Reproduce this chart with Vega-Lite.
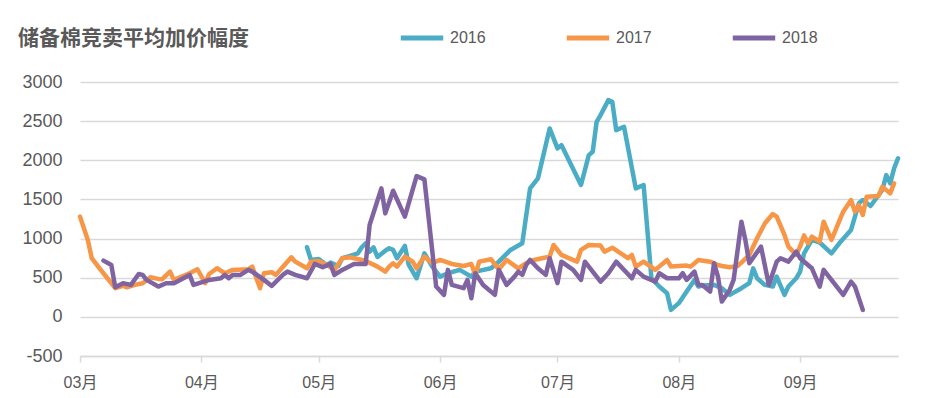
{
  "$schema": "https://vega.github.io/schema/vega-lite/v6.json",
  "width": 818,
  "height": 274,
  "autosize": "none",
  "padding": {"left": 80, "top": 82, "right": 28, "bottom": 42},
  "background": "white",
  "title": {
    "text": "储备棉竞卖平均加价幅度",
    "anchor": "start",
    "frame": "group",
    "dx": -62,
    "offset": 0,
    "dy": 46,
    "baseline": "middle",
    "font": "Noto Sans CJK SC",
    "fontSize": 21,
    "fontWeight": "bold",
    "color": "#595959"
  },
  "config": {
    "view": {"stroke": null},
    "axis": {"labelFont": "Liberation Sans", "labelColor": "#595959"}
  },
  "data": {
    "values": [
      {"d":"2018-04-28","y":"2016","v":889},{"d":"2018-04-29","y":"2016","v":727},{"d":"2018-05-01","y":"2016","v":740},{"d":"2018-05-03","y":"2016","v":663},{"d":"2018-05-04","y":"2016","v":693},{"d":"2018-05-06","y":"2016","v":650},{"d":"2018-05-07","y":"2016","v":749},{"d":"2018-05-09","y":"2016","v":778},{"d":"2018-05-11","y":"2016","v":812},{"d":"2018-05-12","y":"2016","v":889},{"d":"2018-05-13","y":"2016","v":940},{"d":"2018-05-14","y":"2016","v":833},{"d":"2018-05-15","y":"2016","v":889},{"d":"2018-05-16","y":"2016","v":765},{"d":"2018-05-18","y":"2016","v":845},{"d":"2018-05-19","y":"2016","v":876},{"d":"2018-05-20","y":"2016","v":855},{"d":"2018-05-21","y":"2016","v":749},{"d":"2018-05-23","y":"2016","v":906},{"d":"2018-05-24","y":"2016","v":663},{"d":"2018-05-26","y":"2016","v":493},{"d":"2018-05-28","y":"2016","v":812},{"d":"2018-05-30","y":"2016","v":642},{"d":"2018-05-31","y":"2016","v":578},{"d":"2018-06-01","y":"2016","v":514},{"d":"2018-06-03","y":"2016","v":557},{"d":"2018-06-06","y":"2016","v":600},{"d":"2018-06-09","y":"2016","v":514},{"d":"2018-06-10","y":"2016","v":578},{"d":"2018-06-14","y":"2016","v":620},{"d":"2018-06-16","y":"2016","v":705},{"d":"2018-06-19","y":"2016","v":855},{"d":"2018-06-22","y":"2016","v":940},{"d":"2018-06-24","y":"2016","v":1641},{"d":"2018-06-26","y":"2016","v":1769},{"d":"2018-06-29","y":"2016","v":2407},{"d":"2018-07-01","y":"2016","v":2152},{"d":"2018-07-02","y":"2016","v":2194},{"d":"2018-07-07","y":"2016","v":1684},{"d":"2018-07-09","y":"2016","v":2066},{"d":"2018-07-10","y":"2016","v":2109},{"d":"2018-07-11","y":"2016","v":2491},{"d":"2018-07-12","y":"2016","v":2577},{"d":"2018-07-14","y":"2016","v":2768},{"d":"2018-07-15","y":"2016","v":2747},{"d":"2018-07-16","y":"2016","v":2385},{"d":"2018-07-18","y":"2016","v":2428},{"d":"2018-07-21","y":"2016","v":1641},{"d":"2018-07-23","y":"2016","v":1684},{"d":"2018-07-25","y":"2016","v":493},{"d":"2018-07-27","y":"2016","v":387},{"d":"2018-07-29","y":"2016","v":302},{"d":"2018-07-30","y":"2016","v":89},{"d":"2018-08-01","y":"2016","v":175},{"d":"2018-08-03","y":"2016","v":323},{"d":"2018-08-05","y":"2016","v":472},{"d":"2018-08-06","y":"2016","v":387},{"d":"2018-08-07","y":"2016","v":400},{"d":"2018-08-10","y":"2016","v":408},{"d":"2018-08-12","y":"2016","v":366},{"d":"2018-08-14","y":"2016","v":281},{"d":"2018-08-17","y":"2016","v":366},{"d":"2018-08-19","y":"2016","v":430},{"d":"2018-08-20","y":"2016","v":620},{"d":"2018-08-21","y":"2016","v":493},{"d":"2018-08-23","y":"2016","v":408},{"d":"2018-08-25","y":"2016","v":387},{"d":"2018-08-26","y":"2016","v":514},{"d":"2018-08-28","y":"2016","v":281},{"d":"2018-08-29","y":"2016","v":387},{"d":"2018-08-31","y":"2016","v":493},{"d":"2018-09-01","y":"2016","v":578},{"d":"2018-09-02","y":"2016","v":812},{"d":"2018-09-04","y":"2016","v":982},{"d":"2018-09-06","y":"2016","v":950},{"d":"2018-09-09","y":"2016","v":812},{"d":"2018-09-11","y":"2016","v":940},{"d":"2018-09-14","y":"2016","v":1110},{"d":"2018-09-16","y":"2016","v":1450},{"d":"2018-09-17","y":"2016","v":1492},{"d":"2018-09-19","y":"2016","v":1416},{"d":"2018-09-22","y":"2016","v":1620},{"d":"2018-09-23","y":"2016","v":1811},{"d":"2018-09-24","y":"2016","v":1705},{"d":"2018-09-25","y":"2016","v":1897},{"d":"2018-09-26","y":"2016","v":2024},

      {"d":"2018-03-01","y":"2017","v":1280},{"d":"2018-03-03","y":"2017","v":982},{"d":"2018-03-04","y":"2017","v":749},{"d":"2018-03-06","y":"2017","v":620},{"d":"2018-03-08","y":"2017","v":493},{"d":"2018-03-10","y":"2017","v":366},{"d":"2018-03-12","y":"2017","v":395},{"d":"2018-03-13","y":"2017","v":378},{"d":"2018-03-15","y":"2017","v":408},{"d":"2018-03-17","y":"2017","v":430},{"d":"2018-03-19","y":"2017","v":506},{"d":"2018-03-21","y":"2017","v":485},{"d":"2018-03-22","y":"2017","v":481},{"d":"2018-03-24","y":"2017","v":578},{"d":"2018-03-25","y":"2017","v":472},{"d":"2018-03-27","y":"2017","v":514},{"d":"2018-03-29","y":"2017","v":557},{"d":"2018-03-31","y":"2017","v":608},{"d":"2018-04-02","y":"2017","v":430},{"d":"2018-04-03","y":"2017","v":548},{"d":"2018-04-05","y":"2017","v":621},{"d":"2018-04-07","y":"2017","v":557},{"d":"2018-04-09","y":"2017","v":600},{"d":"2018-04-13","y":"2017","v":608},{"d":"2018-04-14","y":"2017","v":642},{"d":"2018-04-16","y":"2017","v":366},{"d":"2018-04-17","y":"2017","v":557},{"d":"2018-04-19","y":"2017","v":570},{"d":"2018-04-20","y":"2017","v":536},{"d":"2018-04-24","y":"2017","v":761},{"d":"2018-04-25","y":"2017","v":705},{"d":"2018-04-28","y":"2017","v":620},{"d":"2018-04-29","y":"2017","v":705},{"d":"2018-05-01","y":"2017","v":714},{"d":"2018-05-03","y":"2017","v":663},{"d":"2018-05-05","y":"2017","v":600},{"d":"2018-05-07","y":"2017","v":749},{"d":"2018-05-09","y":"2017","v":761},{"d":"2018-05-12","y":"2017","v":727},{"d":"2018-05-13","y":"2017","v":714},{"d":"2018-05-16","y":"2017","v":642},{"d":"2018-05-18","y":"2017","v":578},{"d":"2018-05-19","y":"2017","v":642},{"d":"2018-05-20","y":"2017","v":685},{"d":"2018-05-21","y":"2017","v":642},{"d":"2018-05-23","y":"2017","v":770},{"d":"2018-05-25","y":"2017","v":705},{"d":"2018-05-26","y":"2017","v":620},{"d":"2018-05-28","y":"2017","v":770},{"d":"2018-05-30","y":"2017","v":685},{"d":"2018-06-01","y":"2017","v":727},{"d":"2018-06-04","y":"2017","v":676},{"d":"2018-06-07","y":"2017","v":650},{"d":"2018-06-09","y":"2017","v":676},{"d":"2018-06-10","y":"2017","v":536},{"d":"2018-06-11","y":"2017","v":705},{"d":"2018-06-14","y":"2017","v":736},{"d":"2018-06-16","y":"2017","v":608},{"d":"2018-06-18","y":"2017","v":727},{"d":"2018-06-21","y":"2017","v":620},{"d":"2018-06-23","y":"2017","v":685},{"d":"2018-06-25","y":"2017","v":727},{"d":"2018-06-27","y":"2017","v":749},{"d":"2018-06-29","y":"2017","v":770},{"d":"2018-06-30","y":"2017","v":918},{"d":"2018-07-02","y":"2017","v":791},{"d":"2018-07-06","y":"2017","v":705},{"d":"2018-07-07","y":"2017","v":855},{"d":"2018-07-09","y":"2017","v":918},{"d":"2018-07-12","y":"2017","v":910},{"d":"2018-07-13","y":"2017","v":833},{"d":"2018-07-15","y":"2017","v":884},{"d":"2018-07-19","y":"2017","v":749},{"d":"2018-07-20","y":"2017","v":791},{"d":"2018-07-21","y":"2017","v":642},{"d":"2018-07-23","y":"2017","v":705},{"d":"2018-07-26","y":"2017","v":600},{"d":"2018-07-29","y":"2017","v":727},{"d":"2018-07-30","y":"2017","v":642},{"d":"2018-08-03","y":"2017","v":655},{"d":"2018-08-04","y":"2017","v":642},{"d":"2018-08-06","y":"2017","v":727},{"d":"2018-08-09","y":"2017","v":705},{"d":"2018-08-11","y":"2017","v":663},{"d":"2018-08-12","y":"2017","v":650},{"d":"2018-08-14","y":"2017","v":634},{"d":"2018-08-16","y":"2017","v":650},{"d":"2018-08-17","y":"2017","v":693},{"d":"2018-08-19","y":"2017","v":791},{"d":"2018-08-21","y":"2017","v":1004},{"d":"2018-08-23","y":"2017","v":1195},{"d":"2018-08-25","y":"2017","v":1314},{"d":"2018-08-26","y":"2017","v":1280},{"d":"2018-08-28","y":"2017","v":1046},{"d":"2018-08-29","y":"2017","v":897},{"d":"2018-08-31","y":"2017","v":791},{"d":"2018-09-01","y":"2017","v":900},{"d":"2018-09-02","y":"2017","v":1040},{"d":"2018-09-03","y":"2017","v":940},{"d":"2018-09-04","y":"2017","v":1025},{"d":"2018-09-06","y":"2017","v":961},{"d":"2018-09-07","y":"2017","v":1216},{"d":"2018-09-09","y":"2017","v":982},{"d":"2018-09-12","y":"2017","v":1343},{"d":"2018-09-14","y":"2017","v":1492},{"d":"2018-09-15","y":"2017","v":1343},{"d":"2018-09-16","y":"2017","v":1428},{"d":"2018-09-17","y":"2017","v":1301},{"d":"2018-09-18","y":"2017","v":1534},{"d":"2018-09-21","y":"2017","v":1543},{"d":"2018-09-22","y":"2017","v":1662},{"d":"2018-09-24","y":"2017","v":1577},{"d":"2018-09-25","y":"2017","v":1705},

      {"d":"2018-03-07","y":"2018","v":718},{"d":"2018-03-09","y":"2018","v":663},{"d":"2018-03-10","y":"2018","v":379},{"d":"2018-03-12","y":"2018","v":430},{"d":"2018-03-14","y":"2018","v":408},{"d":"2018-03-16","y":"2018","v":548},{"d":"2018-03-17","y":"2018","v":536},{"d":"2018-03-18","y":"2018","v":472},{"d":"2018-03-21","y":"2018","v":387},{"d":"2018-03-23","y":"2018","v":430},{"d":"2018-03-25","y":"2018","v":430},{"d":"2018-03-29","y":"2018","v":536},{"d":"2018-03-30","y":"2018","v":408},{"d":"2018-04-03","y":"2018","v":472},{"d":"2018-04-06","y":"2018","v":493},{"d":"2018-04-07","y":"2018","v":536},{"d":"2018-04-08","y":"2018","v":493},{"d":"2018-04-09","y":"2018","v":536},{"d":"2018-04-11","y":"2018","v":536},{"d":"2018-04-13","y":"2018","v":600},{"d":"2018-04-14","y":"2018","v":578},{"d":"2018-04-17","y":"2018","v":472},{"d":"2018-04-19","y":"2018","v":395},{"d":"2018-04-22","y":"2018","v":544},{"d":"2018-04-23","y":"2018","v":578},{"d":"2018-04-25","y":"2018","v":536},{"d":"2018-04-28","y":"2018","v":493},{"d":"2018-04-30","y":"2018","v":676},{"d":"2018-05-02","y":"2018","v":634},{"d":"2018-05-04","y":"2018","v":676},{"d":"2018-05-05","y":"2018","v":536},{"d":"2018-05-07","y":"2018","v":600},{"d":"2018-05-10","y":"2018","v":676},{"d":"2018-05-13","y":"2018","v":676},{"d":"2018-05-14","y":"2018","v":1173},{"d":"2018-05-17","y":"2018","v":1641},{"d":"2018-05-18","y":"2018","v":1322},{"d":"2018-05-20","y":"2018","v":1611},{"d":"2018-05-23","y":"2018","v":1280},{"d":"2018-05-26","y":"2018","v":1798},{"d":"2018-05-28","y":"2018","v":1756},{"d":"2018-05-31","y":"2018","v":387},{"d":"2018-06-02","y":"2018","v":281},{"d":"2018-06-03","y":"2018","v":600},{"d":"2018-06-04","y":"2018","v":408},{"d":"2018-06-07","y":"2018","v":366},{"d":"2018-06-08","y":"2018","v":472},{"d":"2018-06-09","y":"2018","v":238},{"d":"2018-06-10","y":"2018","v":557},{"d":"2018-06-12","y":"2018","v":408},{"d":"2018-06-15","y":"2018","v":281},{"d":"2018-06-16","y":"2018","v":600},{"d":"2018-06-18","y":"2018","v":408},{"d":"2018-06-20","y":"2018","v":514},{"d":"2018-06-21","y":"2018","v":578},{"d":"2018-06-22","y":"2018","v":536},{"d":"2018-06-23","y":"2018","v":663},{"d":"2018-06-24","y":"2018","v":727},{"d":"2018-06-26","y":"2018","v":620},{"d":"2018-06-28","y":"2018","v":536},{"d":"2018-06-29","y":"2018","v":749},{"d":"2018-07-01","y":"2018","v":430},{"d":"2018-07-02","y":"2018","v":705},{"d":"2018-07-05","y":"2018","v":600},{"d":"2018-07-07","y":"2018","v":472},{"d":"2018-07-08","y":"2018","v":705},{"d":"2018-07-12","y":"2018","v":450},{"d":"2018-07-14","y":"2018","v":557},{"d":"2018-07-16","y":"2018","v":705},{"d":"2018-07-20","y":"2018","v":493},{"d":"2018-07-21","y":"2018","v":600},{"d":"2018-07-23","y":"2018","v":514},{"d":"2018-07-26","y":"2018","v":450},{"d":"2018-07-27","y":"2018","v":557},{"d":"2018-07-29","y":"2018","v":493},{"d":"2018-08-01","y":"2018","v":493},{"d":"2018-08-02","y":"2018","v":557},{"d":"2018-08-03","y":"2018","v":472},{"d":"2018-08-05","y":"2018","v":578},{"d":"2018-08-06","y":"2018","v":408},{"d":"2018-08-07","y":"2018","v":408},{"d":"2018-08-09","y":"2018","v":323},{"d":"2018-08-10","y":"2018","v":685},{"d":"2018-08-11","y":"2018","v":514},{"d":"2018-08-12","y":"2018","v":195},{"d":"2018-08-14","y":"2018","v":344},{"d":"2018-08-15","y":"2018","v":472},{"d":"2018-08-17","y":"2018","v":1216},{"d":"2018-08-18","y":"2018","v":982},{"d":"2018-08-19","y":"2018","v":685},{"d":"2018-08-22","y":"2018","v":897},{"d":"2018-08-24","y":"2018","v":408},{"d":"2018-08-26","y":"2018","v":705},{"d":"2018-08-27","y":"2018","v":749},{"d":"2018-08-29","y":"2018","v":705},{"d":"2018-08-31","y":"2018","v":833},{"d":"2018-09-01","y":"2018","v":749},{"d":"2018-09-03","y":"2018","v":663},{"d":"2018-09-04","y":"2018","v":620},{"d":"2018-09-06","y":"2018","v":387},{"d":"2018-09-07","y":"2018","v":600},{"d":"2018-09-12","y":"2018","v":281},{"d":"2018-09-14","y":"2018","v":450},{"d":"2018-09-15","y":"2018","v":387},{"d":"2018-09-17","y":"2018","v":89}
    ]
  },
  "mark": {"type": "line", "strokeWidth": 4.5, "strokeJoin": "round", "strokeCap": "round"},
  "encoding": {
    "x": {
      "field": "d",
      "type": "temporal",
      "scale": {
        "type": "utc",
        "domain": [
          {"year": 2018, "month": 3, "date": 1, "utc": true},
          {"year": 2018, "month": 9, "date": 26, "utc": true}
        ]
      },
      "axis": {
        "title": null,
        "labelExpr": "utcFormat(datum.value, '%m') + '月'",
        "values": [
          {"year": 2018, "month": 3, "date": 1, "utc": true},
          {"year": 2018, "month": 4, "date": 1, "utc": true},
          {"year": 2018, "month": 5, "date": 1, "utc": true},
          {"year": 2018, "month": 6, "date": 1, "utc": true},
          {"year": 2018, "month": 7, "date": 1, "utc": true},
          {"year": 2018, "month": 8, "date": 1, "utc": true},
          {"year": 2018, "month": 9, "date": 1, "utc": true}
        ],
        "grid": false,
        "domainColor": "#D9D9D9",
        "domainWidth": 1.5,
        "tickColor": "#D9D9D9",
        "tickWidth": 1.5,
        "tickSize": 6,
        "labelPadding": 12,
        "labelFontSize": 16,
        "labelFont": "Liberation Sans, Noto Sans CJK SC",
        "labelAlign": "center",
        "labelFlush": false
      }
    },
    "y": {
      "field": "v",
      "type": "quantitative",
      "scale": {"domain": [-500, 3000], "nice": false, "zero": false},
      "axis": {
        "title": null,
        "values": [-500, 0, 500, 1000, 1500, 2000, 2500, 3000],
        "labelExpr": "'' + datum.value",
        "domain": false,
        "ticks": false,
        "grid": true,
        "gridColor": "#D9D9D9",
        "gridWidth": 1.5,
        "labelPadding": 18,
        "labelFontSize": 18
      }
    },
    "color": {
      "field": "y",
      "type": "nominal",
      "scale": {"domain": ["2016", "2017", "2018"], "range": ["#4BACC6", "#F79646", "#8064A2"]},
      "legend": {
        "title": null,
        "orient": "none",
        "direction": "horizontal",
        "legendX": 318,
        "legendY": -68,
        "columns": 3,
        "columnPadding": 70,
        "symbolType": "stroke",
        "symbolSize": 1800,
        "symbolStrokeWidth": 5,
        "labelFont": "Liberation Sans",
        "labelFontSize": 16,
        "labelColor": "#595959",
        "labelOffset": 4
      }
    }
  }
}
